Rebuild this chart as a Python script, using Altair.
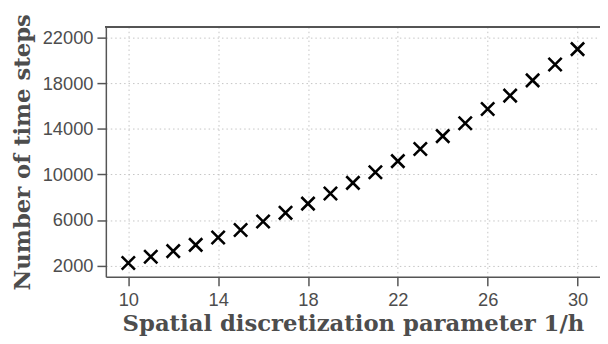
import altair as alt
import pandas as pd

inv_h = [10, 11, 12, 13, 14, 15, 16, 17, 18, 19, 20, 21, 22, 23, 24, 25, 26, 27, 28, 29, 30]
steps = [2234, 2780, 3274, 3820, 4460, 5120, 5875, 6630, 7436, 8330, 9256, 10184,
         11164, 12230, 13357, 14484, 15733, 16912, 18248, 19635, 20987]
x_ticks = [10, 14, 18, 22, 26, 30]
y_ticks = [2000, 6000, 10000, 14000, 18000, 22000]

df = pd.DataFrame({"inv_h": inv_h, "steps": steps})

W, H = 500, 253
GRAY = "#4d4d4d"
AX = "#555555"
TITLE_FONT = "DejaVu Serif"

points = alt.Chart(df).mark_point(
    shape="M-1,-1L1,1M1,-1L-1,1",
    filled=False,
    stroke="black",
    strokeWidth=2.6,
    size=180,
    opacity=1,
).encode(
    x=alt.X("inv_h:Q",
            scale=alt.Scale(domain=[9, 31], nice=False, zero=False),
            axis=alt.Axis(values=x_ticks, format="d",
                          title="Spatial discretization parameter 1/h", grid=True)),
    y=alt.Y("steps:Q",
            scale=alt.Scale(domain=[1020, 22950], nice=False, zero=False),
            axis=alt.Axis(values=y_ticks, format="d",
                          title="Number of time steps", grid=True)),
)

top_border = alt.Chart(df).mark_rule(color=AX, strokeWidth=1.5).encode(
    x=alt.value(0), x2=alt.value(W), y=alt.value(0)
)

chart = alt.layer(points, top_border).properties(
    width=W, height=H,
    autosize=alt.AutoSizeParams(type="none"),
    padding={"left": 99, "top": 17, "right": 0, "bottom": 66},
).configure_view(stroke=None).configure_axis(
    domainColor=AX, domainWidth=1.5,
    tickColor=AX, tickWidth=1.5, tickSize=9,
    labelColor=GRAY, labelFont="Liberation Sans", labelFontSize=18.5,
    titleColor=GRAY, titleFont=TITLE_FONT, titleFontWeight="bold", titleFontSize=23,
    gridColor="#c4c4c4", gridDash=[1.5, 3], gridWidth=1,
).configure_axisX(
    labelPadding=5, titlePadding=4,
).configure_axisY(
    labelPadding=4, titlePadding=8,
)

chart.save("out.html", embed_options={"renderer": "svg", "actions": False})
